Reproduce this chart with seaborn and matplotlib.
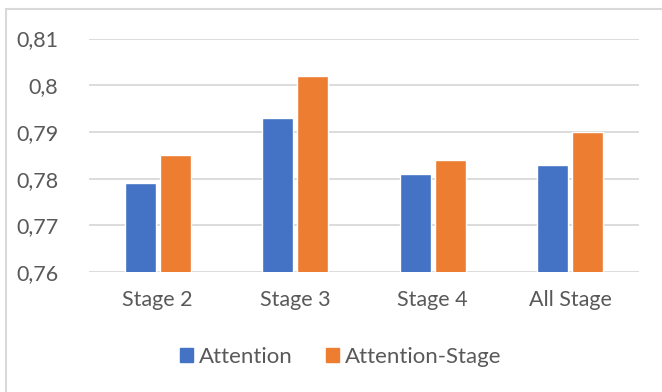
"""
Attention vs Attention-Stage scores per stage (Excel-style grouped bars)
"""

# %% Imports
import pandas as pd
import seaborn as sns
from matplotlib import pyplot as plt
from matplotlib.patches import Rectangle
from matplotlib.ticker import FuncFormatter, MultipleLocator

# %% Data
STAGES = ["Stage 2", "Stage 3", "Stage 4", "All Stage"]
ATTENTION = [0.779, 0.793, 0.781, 0.783]
ATTENTION_STAGE = [0.785, 0.802, 0.784, 0.790]
SERIES = ["Attention", "Attention-Stage"]
COLORS = ["#4472C4", "#ED7D31"]

TEXT_COLOR = "#595959"
GRID_COLOR = "#D9D9D9"

# %% Plot
sns.set_style("white")
plt.rcParams["font.family"] = ["Lato", "DejaVu Sans"]

df = pd.DataFrame(
    {
        "stage": STAGES * 2,
        "score": ATTENTION + ATTENTION_STAGE,
        "series": [SERIES[0]] * len(STAGES) + [SERIES[1]] * len(STAGES),
    }
)

fig = plt.figure(figsize=(6.62, 3.92), dpi=100)
ax = fig.add_axes([89 / 662, 1 - 272 / 392, (639 - 89) / 662, (272 - 38.5) / 392])

sns.barplot(
    data=df,
    x="stage",
    y="score",
    hue="series",
    hue_order=SERIES,
    palette=COLORS,
    width=0.51,
    gap=0.12,
    saturation=1,
    legend=False,
    ax=ax,
)

ax.set_ylim(0.76, 0.81)
ax.set_xlim(-0.5, len(STAGES) - 0.5)
ax.yaxis.set_major_locator(MultipleLocator(0.01))
ax.yaxis.set_major_formatter(FuncFormatter(lambda v, _: f"{round(v, 3):g}".replace(".", ",")))
ax.grid(axis="y", color=GRID_COLOR, linewidth=1.3)
ax.set_axisbelow(True)
ax.spines[["top", "right", "left", "bottom"]].set_visible(False)
ax.tick_params(axis="both", length=0, labelsize=15.5, labelcolor=TEXT_COLOR)
ax.tick_params(axis="y", pad=22)
ax.tick_params(axis="x", pad=13)
ax.set_xlabel("")
ax.set_ylabel("")

# legend with square handles
handles = [Rectangle((0, 0), 1, 1, color=c) for c in COLORS]
fig.legend(
    handles,
    SERIES,
    loc="center",
    bbox_to_anchor=(341 / 662, 1 - 357 / 392),
    ncol=2,
    frameon=False,
    fontsize=16,
    labelcolor=TEXT_COLOR,
    handlelength=0.55,
    handleheight=0.55,
    handletextpad=0.3,
    columnspacing=1.5,
)

# chart-area border (cropped on right and bottom)
fig.patches.append(
    Rectangle(
        (6 / 662, -0.1),
        1.2,
        1.1 - 9 / 392,
        transform=fig.transFigure,
        fill=False,
        edgecolor=GRID_COLOR,
        linewidth=1.5,
    )
)

fig.savefig("out.png", dpi=100)
